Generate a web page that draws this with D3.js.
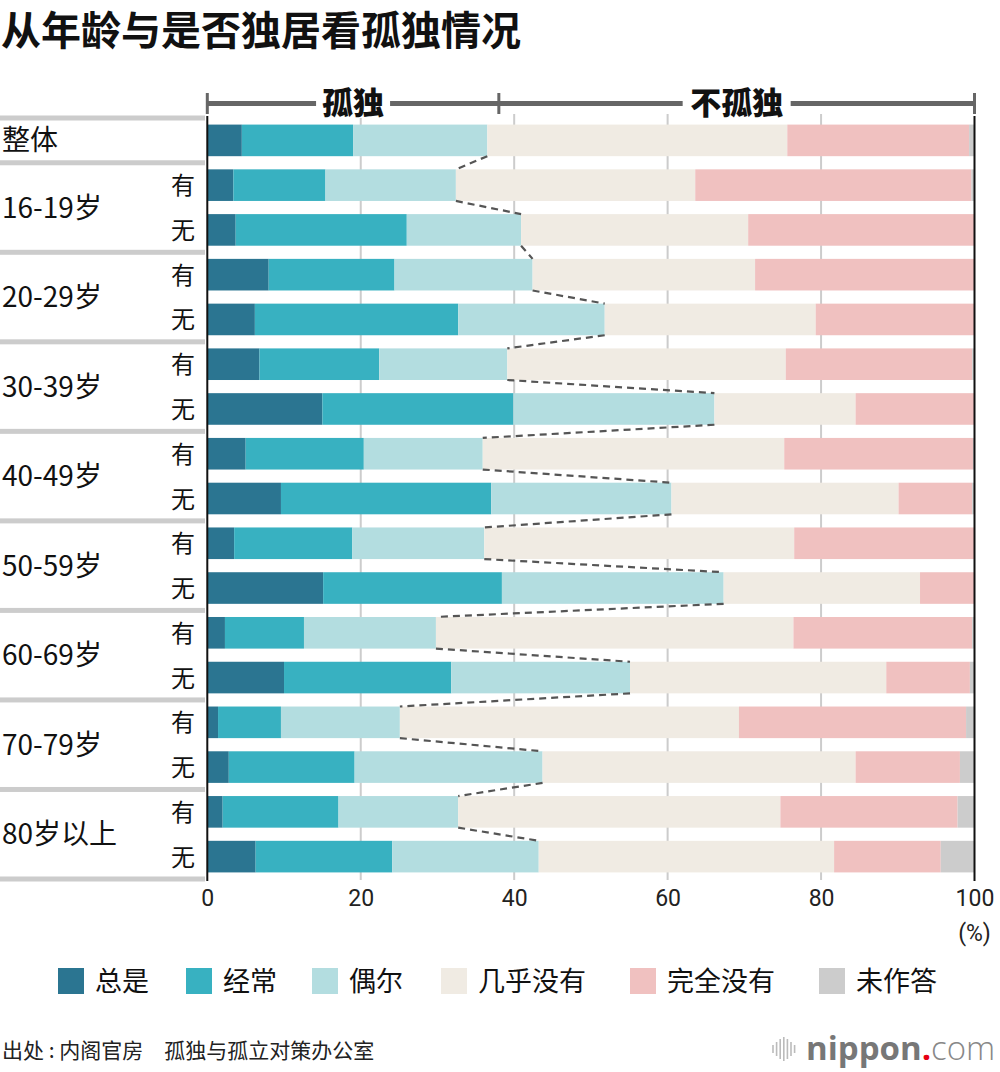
<!DOCTYPE html>
<html lang="zh">
<head>
  <meta charset="UTF-8">
  <title>从年龄与是否独居看孤独情况</title>
  <style>
    body { margin: 0; background: #fff; }
    svg { display: block; font-family: "Noto Sans CJK SC", "Noto Sans", sans-serif; }
  </style>
</head>
<body>
  <script src="https://cdn.jsdelivr.net/npm/d3@7"></script>
  <script>
// 数据
const categories = ['总是', '经常', '偶尔', '几乎没有', '完全没有', '未作答'];
const groupLabels = ['整体', '16-19岁', '20-29岁', '30-39岁', '40-49岁', '50-59岁', '60-69岁', '70-79岁', '80岁以上'];
const subLabels = ['', '有', '无', '有', '无', '有', '无', '有', '无', '有', '无', '有', '无', '有', '无', '有', '无'];
const rowGroup = [0, 1, 1, 2, 2, 3, 3, 4, 4, 5, 5, 6, 6, 7, 7, 8, 8];

const always    = [4.5, 3.4, 3.7, 8.0, 6.2, 6.8, 15.0, 5.0, 9.6, 3.5, 15.1, 2.3, 10.0, 1.4, 2.8, 2.0, 6.3];
const often     = [14.5, 12.0, 22.3, 16.4, 26.5, 15.6, 24.9, 15.4, 27.4, 15.4, 23.3, 10.3, 21.8, 8.2, 16.4, 15.1, 17.8];
const sometimes = [17.5, 17.0, 14.9, 18.0, 19.1, 16.7, 26.2, 15.5, 23.5, 17.2, 28.9, 17.2, 23.3, 15.5, 24.5, 15.6, 19.1];
const rarely    = [39.1, 31.2, 29.6, 29.0, 27.5, 36.3, 18.4, 39.3, 29.6, 40.4, 25.6, 46.6, 33.4, 44.2, 40.8, 42.0, 38.5];
const never     = [23.7, 36.0, 29.5, 28.6, 20.7, 24.3, 15.5, 24.6, 9.6, 23.5, 7.1, 23.3, 10.9, 29.6, 13.6, 23.1, 13.9];
const noAnswer  = [0.7, 0.4, 0, 0, 0, 0.3, 0, 0.2, 0.3, 0, 0, 0.3, 0.6, 1.1, 1.9, 2.2, 4.4];

const xTicks = [0, 20, 40, 60, 80, 100];
const lonelySplit = 38; // 顶部“孤独 / 不孤独”分界

const colors = ['#2b7591', '#38b1c1', '#b3dde0', '#f0ebe3', '#f0c1c0', '#cccccc'];

// 组合成表格给 d3.stack 用
const series = [always, often, sometimes, rarely, never, noAnswer];
const table = subLabels.map((s, i) => {
  const row = { idx: i };
  categories.forEach((c, k) => { row[c] = series[k][i]; });
  return row;
});

const width = 1000, height = 1072;
const svg = d3.select('body').append('svg')
  .attr('width', width).attr('height', height);

// 比例尺
const x = d3.scaleLinear().domain([0, 100]).range([207.3, 974.5]);
const y = d3.scaleBand()
  .domain(d3.range(subLabels.length))
  .range([118, 879])
  .paddingInner(0.294)
  .paddingOuter(0.147);
const gap = y.step() * y.paddingInner();

// 标题
svg.append('text')
  .attr('x', 1).attr('y', 45)
  .attr('font-size', 40).attr('font-weight', 700)
  .attr('fill', '#111')
  .text('从年龄与是否独居看孤独情况');

// 网格线
svg.append('g')
  .selectAll('line')
  .data(xTicks.filter(t => t > 0 && t < 100))
  .join('line')
  .attr('x1', d => x(d)).attr('x2', d => x(d))
  .attr('y1', 114).attr('y2', 880)
  .attr('stroke', '#cccccc').attr('stroke-width', 2);

// 左侧分隔线
const sepRows = [0, 1, 3, 5, 7, 9, 11, 13, 15];
svg.append('g')
  .selectAll('rect')
  .data(sepRows.concat([subLabels.length]))
  .join('rect')
  .attr('x', 0)
  .attr('y', d => (d < subLabels.length ? y(d) : y(d - 1) + y.bandwidth() + gap) - gap / 2 - 2.5)
  .attr('width', 205).attr('height', 5)
  .attr('fill', '#cccccc');

// 堆叠条形
const stacked = d3.stack().keys(categories)(table);
svg.append('g')
  .selectAll('g')
  .data(stacked)
  .join('g')
  .attr('fill', (d, i) => colors[i])
  .selectAll('rect')
  .data(d => d)
  .join('rect')
  .attr('x', d => x(d[0]))
  .attr('y', d => y(d.data.idx))
  .attr('width', d => x(d[1]) - x(d[0]))
  .attr('height', y.bandwidth());

// 孤独 / 不孤独 分界的虚线
const lonely = stacked[2];
const links = d3.range(subLabels.length - 1);
svg.append('g')
  .selectAll('line')
  .data(links)
  .join('line')
  .attr('x1', i => x(lonely[i][1]))
  .attr('y1', i => y(i) + y.bandwidth())
  .attr('x2', i => x(lonely[i + 1][1]))
  .attr('y2', i => y(i + 1))
  .attr('stroke', '#555').attr('stroke-width', 2.2)
  .attr('stroke-dasharray', '7,5');

// 左右两条竖线
[0, 100].forEach(v => {
  svg.append('line')
    .attr('x1', x(v)).attr('x2', x(v))
    .attr('y1', 116).attr('y2', 881)
    .attr('stroke', '#111').attr('stroke-width', 2);
});

// 组标签
svg.append('g')
  .selectAll('text')
  .data(groupLabels)
  .join('text')
  .attr('x', 2)
  .attr('y', (d, gi) => {
    const rows = rowGroup.map((g, i) => g === gi ? i : -1).filter(i => i >= 0);
    const c = d3.mean(rows, i => y(i) + y.bandwidth() / 2);
    return c + 10;
  })
  .attr('font-size', 28).attr('fill', '#111')
  .text(d => d);

// 有 / 无
svg.append('g')
  .selectAll('text')
  .data(subLabels)
  .join('text')
  .attr('x', 195)
  .attr('y', (d, i) => y(i) + y.bandwidth() / 2 + 9)
  .attr('text-anchor', 'end')
  .attr('font-size', 24).attr('fill', '#111')
  .text(d => d);

// 顶部括号
const bracket = svg.append('g').attr('stroke', '#666').attr('stroke-width', 5);
bracket.append('line')
  .attr('x1', x(0)).attr('x2', x(100))
  .attr('y1', 103.5).attr('y2', 103.5);
[0, lonelySplit, 100].forEach(v => {
  bracket.append('line')
    .attr('x1', x(v)).attr('x2', x(v))
    .attr('y1', 93).attr('y2', 114)
    .attr('stroke-width', 3);
});
const heads = [
  { t: '孤独', a: 0, b: lonelySplit, w: 74 },
  { t: '不孤独', a: lonelySplit, b: 100, w: 108 }
];
heads.forEach(h => {
  const cx = (x(h.a) + x(h.b)) / 2;
  svg.append('rect')
    .attr('x', cx - h.w / 2).attr('y', 90)
    .attr('width', h.w).attr('height', 28)
    .attr('fill', '#fff');
  svg.append('text')
    .attr('x', cx).attr('y', 114)
    .attr('text-anchor', 'middle')
    .attr('font-size', 31).attr('font-weight', 900)
    .attr('fill', '#111')
    .text(h.t);
});

// x 轴刻度
const xAxis = d3.axisBottom(x).tickValues(xTicks).tickSize(0).tickPadding(0);
const axisG = svg.append('g')
  .attr('transform', 'translate(0, 890)')
  .call(xAxis);
axisG.select('.domain').remove();
axisG.selectAll('text')
  .attr('font-family', 'Roboto, sans-serif')
  .attr('font-size', 23)
  .attr('fill', '#222')
  .attr('dy', '0.71em');
svg.append('text')
  .attr('x', x(100)).attr('y', 941)
  .attr('text-anchor', 'middle')
  .attr('font-family', 'Roboto, sans-serif')
  .attr('font-size', 23).attr('fill', '#222')
  .text('(%)');

// 图例
const legendX = [58, 186, 312, 441, 630, 819];
const legend = svg.append('g')
  .selectAll('g')
  .data(categories)
  .join('g')
  .attr('transform', (d, i) => `translate(${legendX[i]}, 968)`);
legend.append('rect')
  .attr('width', 26).attr('height', 26)
  .attr('fill', (d, i) => colors[i]);
legend.append('text')
  .attr('x', 37).attr('y', 23)
  .attr('font-size', 27).attr('fill', '#111')
  .text(d => d);

// 出处
svg.append('text')
  .attr('x', 2).attr('y', 1058)
  .attr('font-size', 21).attr('fill', '#222')
  .text('出处 : 内阁官房　孤独与孤立对策办公室');

// nippon.com 标志
const logo = svg.append('g');
const waves = [8, 14, 20, 24, 20, 14, 8];
logo.selectAll('line')
  .data(waves)
  .join('line')
  .attr('x1', (d, i) => 773 + i * 3.6).attr('x2', (d, i) => 773 + i * 3.6)
  .attr('y1', d => 1049 - d / 2).attr('y2', d => 1049 + d / 2)
  .attr('stroke', '#bbb').attr('stroke-width', 1.6);
const logoText = logo.append('text')
  .attr('x', 806).attr('y', 1060)
  .attr('font-family', '"Open Sans", sans-serif')
  .attr('font-size', 33);
logoText.append('tspan').attr('font-weight', 700).attr('fill', '#777').text('nippon');
logoText.append('tspan').attr('font-weight', 700).attr('fill', '#e60012').text('.');
logoText.append('tspan').attr('font-weight', 300).attr('fill', '#888').text('com');
  </script>
</body>
</html>
